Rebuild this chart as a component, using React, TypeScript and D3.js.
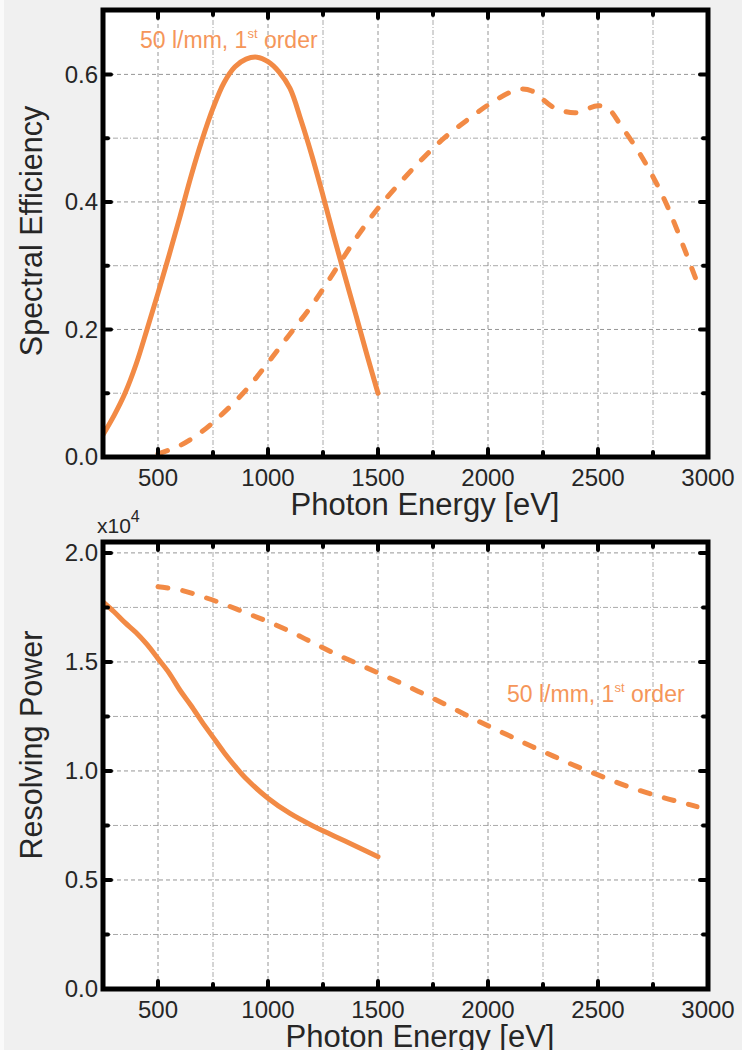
import * as d3 from "d3";

const W = 742;
const H = 1050;
const FONT = "'Liberation Sans', Arial, sans-serif";
const LINE = "#f28a45";
const NOTE = "#f5965a";
const INK = "#262626";
const GRID = "#969696";

// x axis (both panels)
const xMajor = [500, 1000, 1500, 2000, 2500, 3000];
const xMinor = [250, 750, 1250, 1750, 2250, 2750];

// top panel: spectral efficiency
const effMajor = [0, 0.2, 0.4, 0.6];
const effMinor = [0.1, 0.3, 0.5];

const eff1stE = [250, 300, 350, 400, 450, 500, 550, 600, 650, 700, 750, 800, 850, 900, 950, 1000, 1050, 1100, 1150, 1200, 1250, 1300, 1350, 1400, 1450, 1500];
const eff1stV = [0.035, 0.065, 0.1, 0.145, 0.2, 0.257, 0.316, 0.377, 0.44, 0.497, 0.547, 0.587, 0.612, 0.624, 0.627, 0.62, 0.604, 0.578, 0.528, 0.472, 0.41, 0.345, 0.283, 0.222, 0.16, 0.1];

const eff2ndE = [500, 600, 700, 800, 900, 1000, 1100, 1200, 1300, 1400, 1500, 1600, 1700, 1800, 1900, 2000, 2100, 2150, 2200, 2300, 2400, 2500, 2550, 2600, 2700, 2800, 2900, 2960];
const eff2ndV = [0.005, 0.018, 0.04, 0.07, 0.105, 0.148, 0.193, 0.238, 0.29, 0.343, 0.39, 0.43, 0.467, 0.5, 0.527, 0.552, 0.572, 0.577, 0.574, 0.548, 0.54, 0.551, 0.545, 0.522, 0.47, 0.405, 0.32, 0.265];

// bottom panel: resolving power (x10^4)
const rpMajor = [0, 0.5, 1.0, 1.5, 2.0];
const rpMinor = [0.25, 0.75, 1.25, 1.75];

const rp1stE = [250, 300, 350, 400, 450, 500, 550, 600, 650, 700, 750, 800, 850, 900, 1000, 1100, 1200, 1300, 1400, 1500];
const rp1stV = [1.775, 1.73, 1.68, 1.635, 1.58, 1.515, 1.45, 1.37, 1.3, 1.225, 1.155, 1.085, 1.022, 0.965, 0.875, 0.805, 0.75, 0.702, 0.655, 0.607];

const rp2ndE = [500, 600, 700, 800, 900, 1000, 1100, 1200, 1300, 1400, 1500, 1600, 1700, 1800, 1900, 2000, 2100, 2200, 2300, 2400, 2500, 2600, 2700, 2800, 2900, 2950];
const rp2ndV = [1.845, 1.83, 1.8, 1.765, 1.725, 1.685, 1.64, 1.59, 1.54, 1.495, 1.45, 1.405, 1.357, 1.308, 1.257, 1.207, 1.16, 1.112, 1.067, 1.022, 0.982, 0.942, 0.907, 0.877, 0.85, 0.836];

const zip = (e: number[], v: number[]) => e.map((x, i) => [x, v[i]] as [number, number]);

type Series = { pts: [number, number][]; dashed: boolean };

type PanelProps = {
  id: string;
  top: number;
  bottom: number;
  yMax: number;
  yMajor: number[];
  yMinor: number[];
  fmt: (v: number) => string;
  ylabel: string;
  ylabelY: number;
  xlabelX: number;
  series: Series[];
  note: [number, number];
};

const LEFT = 103;
const RIGHT = 708;

function Panel(p: PanelProps) {
  const x = d3.scaleLinear().domain([250, 3000]).range([LEFT, RIGHT]);
  const y = d3.scaleLinear().domain([0, p.yMax]).range([p.bottom, p.top]);
  const line = d3
    .line<[number, number]>()
    .x((d) => x(d[0]))
    .y((d) => y(d[1]))
    .curve(d3.curveCatmullRom.alpha(0.5));

  const majLen = 8;
  const minLen = 5;

  return (
    <g>
      <rect x={LEFT} y={p.top} width={RIGHT - LEFT} height={p.bottom - p.top} fill="#fff" />
      <clipPath id={p.id}>
        <rect x={LEFT} y={p.top} width={RIGHT - LEFT} height={p.bottom - p.top} />
      </clipPath>

      {/* grid */}
      <g stroke={GRID} strokeWidth={1}>
        {xMajor.map((v) => (
          <line key={"gx" + v} x1={x(v)} x2={x(v)} y1={p.top} y2={p.bottom} strokeDasharray="4 3" />
        ))}
        {xMinor.map((v) => (
          <line key={"gxm" + v} x1={x(v)} x2={x(v)} y1={p.top} y2={p.bottom} strokeDasharray="5 2 1 2" opacity={0.8} />
        ))}
        {p.yMajor.map((v) => (
          <line key={"gy" + v} x1={LEFT} x2={RIGHT} y1={y(v)} y2={y(v)} strokeDasharray="4 3" />
        ))}
        {p.yMinor.map((v) => (
          <line key={"gym" + v} x1={LEFT} x2={RIGHT} y1={y(v)} y2={y(v)} strokeDasharray="5 2 1 2" opacity={0.8} />
        ))}
      </g>

      {/* curves */}
      <g clipPath={`url(#${p.id})`} fill="none" stroke={LINE} strokeWidth={5} strokeLinecap="round" strokeLinejoin="round">
        {p.series.map((s, i) => (
          <path key={i} d={line(s.pts) || ""} strokeDasharray={s.dashed ? "10 15" : undefined} />
        ))}
      </g>

      {/* frame and ticks */}
      <rect x={LEFT} y={p.top} width={RIGHT - LEFT} height={p.bottom - p.top} fill="none" stroke="#000" strokeWidth={5} />
      <g stroke="#000" strokeWidth={4} strokeLinecap="round">
        {xMajor.concat(xMinor).map((v) => {
          const len = xMajor.includes(v) ? majLen : minLen;
          return (
            <g key={"t" + v}>
              <line x1={x(v)} x2={x(v)} y1={p.bottom} y2={p.bottom - len} />
              <line x1={x(v)} x2={x(v)} y1={p.top} y2={p.top + len} />
            </g>
          );
        })}
        {p.yMajor.concat(p.yMinor).map((v) => {
          const len = p.yMajor.includes(v) ? majLen : minLen;
          return (
            <g key={"ty" + v}>
              <line x1={LEFT} x2={LEFT + len} y1={y(v)} y2={y(v)} />
              <line x1={RIGHT} x2={RIGHT - len} y1={y(v)} y2={y(v)} />
            </g>
          );
        })}
      </g>

      {/* tick labels */}
      <g fontFamily={FONT} fontSize={24} fill={INK}>
        {xMajor.map((v) => (
          <text key={"lx" + v} x={x(v)} y={p.bottom + 29} textAnchor="middle">
            {v}
          </text>
        ))}
        {p.yMajor.map((v) => (
          <text key={"ly" + v} x={98} y={y(v)} dy="0.35em" textAnchor="end">
            {p.fmt(v)}
          </text>
        ))}
      </g>

      <text x={p.xlabelX} y={p.bottom + 58} textAnchor="middle" fontFamily={FONT} fontSize={31} fill={INK}>
        Photon Energy [eV]
      </text>
      <text
        transform={`translate(31,${p.ylabelY}) rotate(-90)`}
        textAnchor="middle"
        dy="0.35em"
        fontFamily={FONT}
        fontSize={30.5}
        fill={INK}
      >
        {p.ylabel}
      </text>

      <text x={p.note[0]} y={p.note[1]} fontFamily={FONT} fontSize={23} fill={NOTE}>
        50 l/mm, 1
        <tspan dy={-10} fontSize={13}>
          st
        </tspan>
        <tspan dy={10}> order</tspan>
      </text>
    </g>
  );
}

export default function App() {
  const f1 = d3.format(".1f");
  return (
    <div style={{ position: "absolute", left: 0, top: 0 }}>
      <svg width={W} height={H} viewBox={`0 0 ${W} ${H}`} style={{ display: "block" }}>
        <rect width={W} height={H} fill="#f0f0f0" />
        <rect width={4} height={H} fill="#fafafa" />
        <Panel
          id="clipTop"
          top={10}
          bottom={457}
          yMax={0.701}
          yMajor={effMajor}
          yMinor={effMinor}
          fmt={f1}
          ylabel="Spectral Efficiency"
          ylabelY={231}
          xlabelX={425}
          series={[
            { pts: zip(eff1stE, eff1stV), dashed: false },
            { pts: zip(eff2ndE, eff2ndV), dashed: true },
          ]}
          note={[140, 48]}
        />
        <Panel
          id="clipBottom"
          top={542}
          bottom={989}
          yMax={2.05}
          yMajor={rpMajor}
          yMinor={rpMinor}
          fmt={f1}
          ylabel="Resolving Power"
          ylabelY={745}
          xlabelX={420}
          series={[
            { pts: zip(rp1stE, rp1stV), dashed: false },
            { pts: zip(rp2ndE, rp2ndV), dashed: true },
          ]}
          note={[507, 702]}
        />
        <text x={97} y={533} fontFamily={FONT} fontSize={21} fill={INK}>
          x10
          <tspan dy={-11} fontSize={16}>
            4
          </tspan>
        </text>
      </svg>
    </div>
  );
}
